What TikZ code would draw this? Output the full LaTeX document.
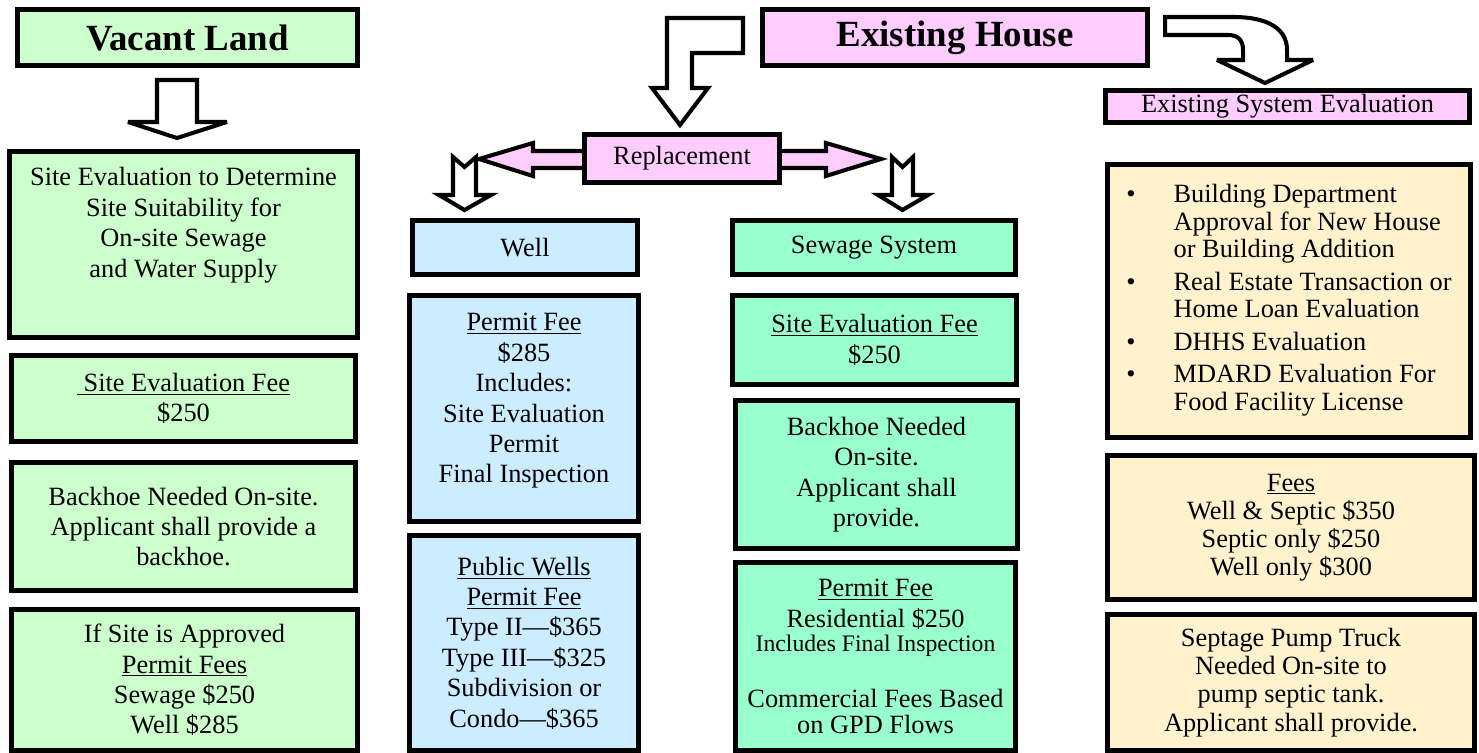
\documentclass[tikz,border=0pt]{standalone}
\usepackage{fontspec}
\setmainfont{Liberation Serif}

\definecolor{landgreen}{HTML}{CCFFCC}
\definecolor{housepink}{HTML}{FFCCFF}
\definecolor{wellblue}{HTML}{CCECFF}
\definecolor{sewgreen}{HTML}{99FFCC}
\definecolor{evalcream}{HTML}{FFF2CC}

\tikzset{
  box/.style={draw, line width=3pt, inner sep=0pt, align=center,
    font=\fontsize{15}{17.3}\selectfont},
  size/.style 2 args={minimum width=#1*0.02cm, minimum height=#2*0.02cm},
  titlebox/.style={box, font=\fontsize{21}{25}\selectfont\bfseries},
  landbox/.style={box, fill=landgreen},
  housebox/.style={box, fill=housepink},
  wellbox/.style={box, fill=wellblue},
  sewbox/.style={box, fill=sewgreen},
  evalbox/.style={box, fill=evalcream, font=\fontsize{15}{16}\selectfont},
  blockarrow/.style={draw, line width=2.3pt, fill=white, miter limit=4},
}

\begin{document}
\begin{tikzpicture}[x=0.02cm, y=-0.02cm]
\useasboundingbox (0,0) rectangle (1479,753);

% vacant land
\node[titlebox, fill=landgreen, size={340}{56}] (vacant) at (187.5,37.5) {Vacant Land};
\draw[blockarrow] (157,80) -- (197,80) -- (197,122) -- (227,122) -- (177,138)
  -- (128,122) -- (157,122) -- cycle;
\node[landbox, size={348}{186}] (siteeval) at (183.5,244.5)
  {Site Evaluation to Determine\\Site Suitability for\\On-site Sewage\\and Water Supply\\[8pt]~};
\node[landbox, size={344}{86}] (landfee) at (183.5,398.5)
  {\underline{~Site Evaluation Fee}\\\$250};
\node[landbox, size={344}{128}] (landhoe) at (183.5,526.5)
  {Backhoe Needed On-site.\\Applicant shall provide a\\backhoe.};
\node[landbox, size={346}{141}] (landpermit) at (184.5,680)
  {If Site is Approved\\\underline{Permit Fees}\\Sewage \$250\\Well \$285};

% existing house
\node[titlebox, fill=housepink, size={385}{56}] (house) at (955,37.5) {Existing House};
\draw[blockarrow] (743,18) -- (667,18) -- (667,88) -- (652,88) -- (680,125)
  -- (708,88) -- (692,88) -- (692,53) -- (743,53) -- cycle;
\draw[blockarrow] (1165,17) -- (1233,17) .. controls (1270,17) and (1287,30) .. (1287,50)
  -- (1287,60) -- (1313,60) -- (1265,83) -- (1217,60) -- (1243,60) -- (1243,50)
  .. controls (1243,40) and (1238,35) .. (1228,35) -- (1165,35) -- cycle;

% replacement
\draw[blockarrow, fill=housepink] (590,151) -- (533,151) -- (533,143) -- (479,159)
  -- (533,176) -- (533,168) -- (590,168);
\draw[blockarrow, fill=housepink] (775,151) -- (826,151) -- (826,143) -- (881,159)
  -- (826,176) -- (826,168) -- (775,168);
\node[housebox, size={195}{48}] (replace) at (682,158.5) {Replacement};
\draw[blockarrow] (453,157) -- (464.5,167) -- (476,157) -- (476,195) -- (491,195)
  -- (464.5,210) -- (439,195) -- (453,195) -- cycle;
\draw[blockarrow] (892,157) -- (902.5,167) -- (913,157) -- (913,195) -- (928,195)
  -- (902.5,210) -- (878,195) -- (892,195) -- cycle;

% well
\node[wellbox, size={225}{54}] (well) at (525,247.5) {Well};
\node[wellbox, size={229}{226}] (wellpermit) at (524,408.5)
  {\underline{Permit Fee}\\\$285\\Includes:\\Site Evaluation\\Permit\\Final Inspection\\[-5.6pt]~};
\node[wellbox, size={229}{215}] (publicwells) at (524,643)
  {\underline{Public Wells}\\\underline{Permit Fee}\\Type II---\$365\\Type III---\$325\\Subdivision or\\Condo---\$365};

% sewage
\node[sewbox, size={283}{54}] (sewage) at (874,247.5) {Sewage System};
\node[sewbox, size={284}{89}] (sewfee) at (874.5,340)
  {\underline{Site Evaluation Fee}\\\$250};
\node[sewbox, size={282}{148}] (sewhoe) at (876.5,474.5)
  {Backhoe Needed\\On-site.\\Applicant shall\\provide.};
\node[sewbox, size={280}{188}] (sewpermit) at (875.5,656.5)
  {\underline{Permit Fee}\\Residential \$250\\[-3.6pt]{\fontsize{13.5}{15}\selectfont Includes Final Inspection}\\[14.6pt]Commercial Fees Based\\[-2.5pt]on GPD Flows};

% existing system evaluation
\node[housebox, size={364}{32}] (evaluation) at (1287.5,106.5) {Existing System Evaluation};
\node[evalbox, size={363}{273}] (evallist) at (1289,301)
  {\fontsize{15}{15.6}\selectfont
   \begin{tabular}{@{}c@{\hspace{21.6pt}}l@{}}
   \textbullet & Building Department\\
    & Approval for New House\\
    & or Building Addition\\[3pt]
   \textbullet & Real Estate Transaction or\\
    & Home Loan Evaluation\\[3pt]
   \textbullet & DHHS Evaluation\\[3pt]
   \textbullet & MDARD Evaluation For\\
    & Food Facility License
   \end{tabular}};
\node[evalbox, size={367}{144}] (evalfees) at (1291,527.5)
  {\underline{Fees}\\Well \& Septic \$350\\Septic only \$250\\Well only \$300};
\node[evalbox, size={367}{136}] (pumptruck) at (1291,682.5)
  {Septage Pump Truck\\Needed On-site to\\pump septic tank.\\Applicant shall provide.};
\end{tikzpicture}
\end{document}
